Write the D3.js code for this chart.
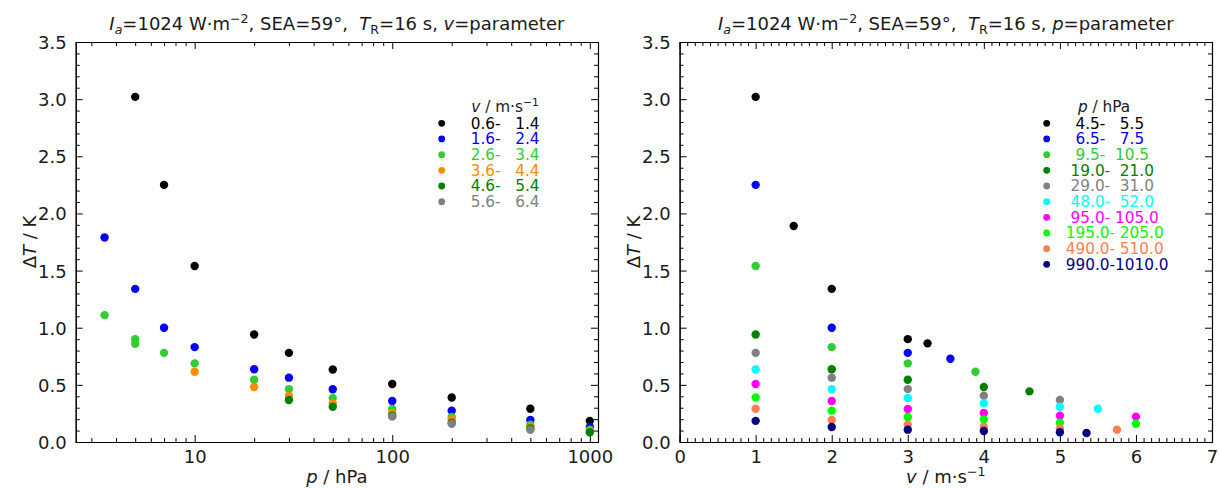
<!DOCTYPE html>
<html><head><meta charset="utf-8">
<script src="https://cdn.jsdelivr.net/npm/d3@7"></script>
<style>
body{margin:0;background:#fff;}
svg{display:block;font-family:"DejaVu Sans",sans-serif;}
text{white-space:pre;}
</style></head><body>
<svg id="chart" width="1219" height="488"></svg>
<script>
// ---------- Left panel: x = p (hPa), series = v bins ----------
const vBinLow  = [0.6, 1.6, 2.6, 3.6, 4.6, 5.6];
const vBinHigh = [1.4, 2.4, 3.4, 4.4, 5.4, 6.4];
const vBinColors = ["black", "blue", "limegreen", "darkorange", "green", "gray"];

const pV1 = [5, 7, 10, 20, 30, 50, 100, 200, 500, 1000];
const dTV1 = [3.02, 2.25, 1.54, 0.94, 0.78, 0.635, 0.507, 0.39, 0.291, 0.185];
const pV2 = [3.5, 5, 7, 10, 20, 30, 50, 100, 200, 500, 1000];
const dTV2 = [1.79, 1.34, 1.00, 0.83, 0.636, 0.563, 0.462, 0.359, 0.274, 0.192, 0.131];
const pV3 = [3.5, 5, 5, 7, 10, 20, 30, 50, 100, 200, 500, 1000];
const dTV3 = [1.11, 0.90, 0.86, 0.78, 0.688, 0.545, 0.463, 0.385, 0.289, 0.219, 0.152, 0.108];
const pV4 = [10, 20, 30, 50, 100, 200, 500, 1000];
const dTV4 = [0.615, 0.481, 0.405, 0.338, 0.254, 0.198, 0.134, 0.096];
const pV5 = [30, 50, 100, 200, 500, 1000];
const dTV5 = [0.367, 0.309, 0.23, 0.169, 0.119, 0.085];
const pV6 = [100, 200, 500];
const dTV6 = [0.222, 0.160, 0.108];

// ---------- Right panel: x = v (m/s), series = p bins ----------
const pBinLow  = [4.5, 6.5, 9.5, 19.0, 29.0, 48.0, 95.0, 195.0, 490.0, 990.0];
const pBinHigh = [5.5, 7.5, 10.5, 21.0, 31.0, 52.0, 105.0, 205.0, 510.0, 1010.0];
const pBinColors = ["black", "blue", "limegreen", "green", "gray", "cyan", "magenta", "lime", "coral", "navy"];

const vP5 = [1, 1.5, 2, 3, 3.26];          const dTP5 = [3.02, 1.89, 1.34, 0.90, 0.863];
const vP7 = [1, 2, 3, 3.56];               const dTP7 = [2.25, 1.00, 0.78, 0.729];
const vP10 = [1, 2, 3, 3.89];              const dTP10 = [1.54, 0.83, 0.688, 0.615];
const vP20 = [1, 2, 3, 4, 4.60];           const dTP20 = [0.94, 0.636, 0.545, 0.481, 0.443];
const vP30 = [1, 2, 3, 4, 5];              const dTP30 = [0.78, 0.563, 0.463, 0.405, 0.367];
const vP50 = [1, 2, 3, 4, 5, 5.5];         const dTP50 = [0.635, 0.462, 0.385, 0.338, 0.309, 0.291];
const vP100 = [1, 2, 3, 4, 5, 6];          const dTP100 = [0.507, 0.359, 0.289, 0.254, 0.23, 0.222];
const vP200 = [1, 2, 3, 4, 5, 6];          const dTP200 = [0.39, 0.274, 0.219, 0.198, 0.169, 0.160];
const vP500 = [1, 2, 3, 4, 5, 5.75];       const dTP500 = [0.291, 0.192, 0.152, 0.134, 0.119, 0.108];
const vP1000 = [1, 2, 3, 4, 5, 5.35];      const dTP1000 = [0.185, 0.131, 0.108, 0.096, 0.085, 0.079];

// tick values
const yMajorTicks = [0, 0.5, 1.0, 1.5, 2.0, 2.5, 3.0, 3.5];
const pMajorTicks = [10, 100, 1000];
const vMajorTicks = [0, 1, 2, 3, 4, 5, 6, 7];

const leftSeries = [[pV1,dTV1],[pV2,dTV2],[pV3,dTV3],[pV4,dTV4],[pV5,dTV5],[pV6,dTV6]];
const rightSeries = [[vP5,dTP5],[vP7,dTP7],[vP10,dTP10],[vP20,dTP20],[vP30,dTP30],
                     [vP50,dTP50],[vP100,dTP100],[vP200,dTP200],[vP500,dTP500],[vP1000,dTP1000]];

const svg = d3.select("#chart");
const TICK_FS = 18, LEG_FS = 15.3, TITLE_FS = 18, LABEL_FS = 18;
const TXT = "#1a1a1a";

function rich(sel, parts, size){
  let shift = 0;
  parts.forEach(p => {
    const ts = sel.append("tspan").text(p.t);
    let target = 0, fs = size;
    if (p.sub){ target = 0.22*size; fs = 0.7*size; }
    if (p.sup){ target = -0.38*size; fs = 0.7*size; }
    ts.attr("font-size", fs);
    if (p.i) ts.attr("font-style", "italic");
    if (target !== shift){ ts.attr("dy", target - shift); shift = target; }
  });
}

const yTop = 42, yBottom = 442;
const y = d3.scaleLinear().domain([0, 3.5]).range([yBottom, yTop]);
const yMinor = d3.range(0, 35.01, 1).map(d => d/10).filter(d => Math.abs(d*2 - Math.round(d*2)) > 1e-6);

function styleAxis(g){
  g.select(".domain").attr("stroke", "#000").attr("stroke-width", 1.1);
  g.selectAll(".tick line").attr("stroke", "#000").attr("stroke-width", 1);
  g.selectAll(".tick text").attr("fill", TXT).attr("font-size", TICK_FS).attr("font-family", "DejaVu Sans");
}

function panel(x, xMajor, xMinor, xFmt, series, colors, cfg){
  const [x0, x1] = x.range();
  const gl = svg.append("g").attr("transform", `translate(${x0},0)`)
    .call(d3.axisLeft(y).tickValues(yMinor).tickSize(-4).tickSizeOuter(0).tickFormat(""));
  styleAxis(gl);
  const glM = svg.append("g").attr("transform", `translate(${x0},0)`)
    .call(d3.axisLeft(y).tickValues(yMajorTicks).tickSize(-7).tickSizeOuter(0).tickPadding(9).tickFormat(d3.format(".1f")));
  styleAxis(glM);
  glM.selectAll(".tick text").attr("dy", "0.36em");
  const gr = svg.append("g").attr("transform", `translate(${x1},0)`)
    .call(d3.axisRight(y).tickValues(yMinor).tickSize(-4).tickSizeOuter(0).tickFormat(""));
  styleAxis(gr);
  const grM = svg.append("g").attr("transform", `translate(${x1},0)`)
    .call(d3.axisRight(y).tickValues(yMajorTicks).tickSize(-7).tickSizeOuter(0).tickFormat(""));
  styleAxis(grM);
  const gb = svg.append("g").attr("transform", `translate(0,${yBottom})`)
    .call(d3.axisBottom(x).tickValues(xMinor).tickSize(-4).tickSizeOuter(0).tickFormat(""));
  styleAxis(gb);
  const gbM = svg.append("g").attr("transform", `translate(0,${yBottom})`)
    .call(d3.axisBottom(x).tickValues(xMajor).tickSize(-7).tickSizeOuter(0).tickPadding(8).tickFormat(xFmt));
  styleAxis(gbM);
  const gt = svg.append("g").attr("transform", `translate(0,${yTop})`)
    .call(d3.axisTop(x).tickValues(xMinor).tickSize(-4).tickSizeOuter(0).tickFormat(""));
  styleAxis(gt);
  const gtM = svg.append("g").attr("transform", `translate(0,${yTop})`)
    .call(d3.axisTop(x).tickValues(xMajor).tickSize(-7).tickSizeOuter(0).tickFormat(""));
  styleAxis(gtM);

  series.forEach((s, i) => {
    const pts = s[0].map((xv, j) => [xv, s[1][j]]);
    svg.append("g").selectAll("circle").data(pts).join("circle")
      .attr("cx", d => x(d[0])).attr("cy", d => y(d[1])).attr("r", 4.2)
      .attr("fill", colors[i]);
  });

  const cx = (x0 + x1)/2;
  const t = svg.append("text").attr("x", cx).attr("y", 30).attr("text-anchor", "middle")
    .attr("fill", TXT).attr("font-size", TITLE_FS);
  rich(t, cfg.title, TITLE_FS);
  const xl = svg.append("text").attr("x", cx).attr("y", 483).attr("text-anchor", "middle")
    .attr("fill", TXT).attr("font-size", LABEL_FS);
  rich(xl, cfg.xlabel, LABEL_FS);
  const yl = svg.append("text").attr("transform", `translate(${x0 - 40},${(yTop+yBottom)/2}) rotate(-90)`)
    .attr("text-anchor", "middle").attr("fill", TXT).attr("font-size", LABEL_FS);
  rich(yl, [{t:"Δ"},{t:"T", i:true},{t:" / K"}], LABEL_FS);

  const lg = svg.append("g");
  const lt = lg.append("text").attr("x", cfg.legTitleX).attr("y", 106.5).attr("dy", "0.36em")
    .attr("text-anchor", "middle").attr("fill", TXT).attr("font-size", LEG_FS);
  rich(lt, cfg.legTitle, LEG_FS);
  const f5 = d3.format("5.1f"), f6 = d3.format("6.1f");
  cfg.lo.forEach((lo, i) => {
    const ry = 123.3 + i*15.67;
    lg.append("circle").attr("cx", cfg.legMarkX).attr("cy", ry).attr("r", 3.4).attr("fill", colors[i]);
    lg.append("text").attr("x", cfg.legTextX).attr("y", ry).attr("dy", "0.36em")
      .attr("fill", colors[i]).attr("font-size", LEG_FS)
      .text(f5(lo) + "-" + f6(cfg.hi[i]));
  });
}

const xP = d3.scaleLog().domain([2.5, 1100]).range([75.7, 598]);
const pMinor = [];
[1, 10, 100].forEach(dec => d3.range(2, 10).forEach(k => { const v = k*dec; if (v >= 2.5 && v <= 1100) pMinor.push(v); }));
panel(xP, pMajorTicks, pMinor, d3.format("d"), leftSeries, vBinColors, {
  title: [{t:"I", i:true},{t:"a", i:true, sub:true},{t:"=1024 W·m"},{t:"−2", sup:true},{t:", SEA=59°,  "},
          {t:"T", i:true},{t:"R", sub:true},{t:"=16 s, "},{t:"v", i:true},{t:"=parameter"}],
  xlabel: [{t:"p", i:true},{t:" / hPa"}],
  legTitle: [{t:"v", i:true},{t:" / m·s"},{t:"−1", sup:true}],
  legTitleX: 505, legMarkX: 441.7, legTextX: 461,
  lo: vBinLow, hi: vBinHigh
});

const xV = d3.scaleLinear().domain([0, 7]).range([679.6, 1212]);
const vMinor = d3.range(0, 70.01, 1).filter(d => d % 10 !== 0).map(d => d/10);
panel(xV, vMajorTicks, vMinor, d3.format("d"), rightSeries, pBinColors, {
  title: [{t:"I", i:true},{t:"a", i:true, sub:true},{t:"=1024 W·m"},{t:"−2", sup:true},{t:", SEA=59°,  "},
          {t:"T", i:true},{t:"R", sub:true},{t:"=16 s, "},{t:"p", i:true},{t:"=parameter"}],
  xlabel: [{t:"v", i:true},{t:" / m·s"},{t:"−1", sup:true}],
  legTitle: [{t:"p", i:true},{t:" / hPa"}],
  legTitleX: 1104, legMarkX: 1046.7, legTextX: 1065.7,
  lo: pBinLow, hi: pBinHigh
});
</script>
</body></html>
